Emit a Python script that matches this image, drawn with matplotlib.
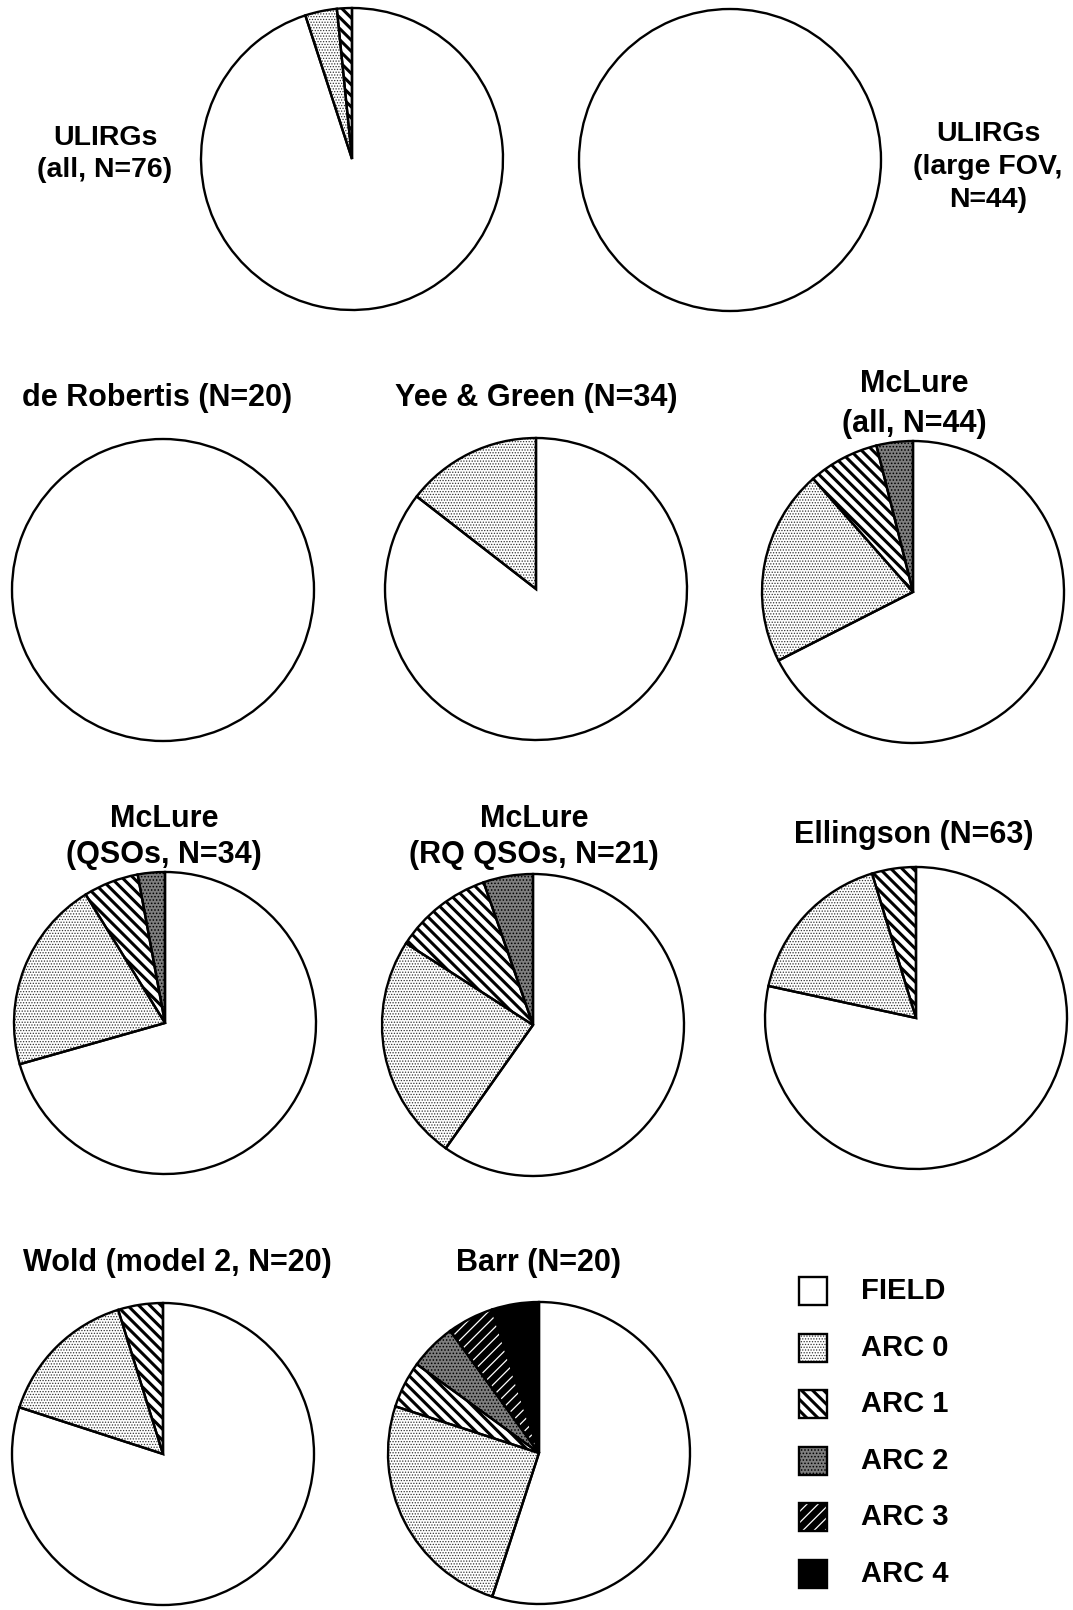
import matplotlib.pyplot as plt
from matplotlib.patches import Rectangle

plt.rcParams['font.family'] = ['Liberation Sans', 'DejaVu Sans']
plt.rcParams['font.weight'] = 'bold'
plt.rcParams['hatch.linewidth'] = 1.0

W, H = 1073, 1610

categories = ['FIELD', 'ARC 0', 'ARC 1', 'ARC 2', 'ARC 3', 'ARC 4']

# percentage of each sample in each environment class (FIELD, ARC 0 .. ARC 4)
ulirgs_all = [95.0, 3.4, 1.6, 0, 0, 0]
ulirgs_fov = [100.0, 0, 0, 0, 0, 0]
de_robertis = [100.0, 0, 0, 0, 0, 0]
yee_green = [85.5, 14.5, 0, 0, 0, 0]
mclure_all = [67.5, 21.0, 7.6, 3.9, 0, 0]
mclure_qso = [70.6, 20.6, 5.9, 2.9, 0, 0]
mclure_rq = [59.8, 24.3, 10.6, 5.3, 0, 0]
ellingson = [78.4, 16.9, 4.7, 0, 0, 0]
wold = [80.0, 15.2, 4.8, 0, 0, 0]
barr = [55.0, 25.0, 5.0, 5.0, 5.0, 5.0]

titles = ['ULIRGs\n(all, N=76)', 'ULIRGs\n(large FOV,\nN=44)',
          'de Robertis (N=20)', 'Yee & Green (N=34)', 'McLure\n(all, N=44)',
          'McLure\n(QSOs, N=34)', 'McLure\n(RQ QSOs, N=21)', 'Ellingson (N=63)',
          'Wold (model 2, N=20)', 'Barr (N=20)']
samples = [ulirgs_all, ulirgs_fov, de_robertis, yee_green, mclure_all,
           mclure_qso, mclure_rq, ellingson, wold, barr]

# layout in pixels: pie centre, radius, title centre, size and line spacing
pie_pos = [(352, 159), (730, 160), (163, 590), (536, 589), (913, 592),
           (165, 1023), (533, 1025), (916, 1018), (163, 1454), (539, 1453)]
title_pos = [(105, 154), (988, 167), (157, 398), (536, 398), (914, 404),
             (164, 837), (534, 837), (914, 835), (177, 1263), (539, 1263)]
title_fs = [20.5, 20.5, 22, 22, 22, 22, 22, 22, 22, 22]
title_ls = [1.32, 1.36, 1.2, 1.2, 1.46, 1.27, 1.27, 1.2, 1.2, 1.2]
R = 151

styles = {
    'FIELD': dict(face='white', hatch=None, hc='white', hlw=1.0),
    'ARC 0': dict(face='white', hatch='......', hc='#333333', hlw=0.6),
    'ARC 1': dict(face='white', hatch='\\\\\\', hc='black', hlw=2.2),
    'ARC 2': dict(face='#7e7e7e', hatch='.....', hc='black', hlw=0.7),
    'ARC 3': dict(face='black', hatch='///', hc='white', hlw=0.9),
    'ARC 4': dict(face='black', hatch=None, hc='black', hlw=1.0),
}


def style_patch(p, cat):
    s = styles[cat]
    p.set_facecolor(s['face'])
    p.set_edgecolor(s['hc'])
    p.set_linewidth(0)
    if s['hatch']:
        p.set_hatch(s['hatch'])
        if hasattr(p, 'set_hatch_linewidth'):
            p.set_hatch_linewidth(s['hlw'])


fig = plt.figure(figsize=(W / 100, H / 100), dpi=100)

# overlay axes in pixel coordinates for the text and the legend
bg = fig.add_axes([0, 0, 1, 1], zorder=5)
bg.set_xlim(0, W)
bg.set_ylim(H, 0)
bg.axis('off')

pad = 1.03
for vals, (cx, cy) in zip(samples, pie_pos):
    ax = fig.add_axes([(cx - R * pad) / W, 1 - (cy + R * pad) / H,
                       2 * R * pad / W, 2 * R * pad / H])
    # pies run anticlockwise from 12 o'clock: ARC 4 ... ARC 0, then FIELD
    order = [c for c in categories[::-1] if vals[categories.index(c)] > 0]
    v = [vals[categories.index(c)] for c in order]
    wedges, _ = ax.pie(v, startangle=90, counterclock=True, radius=1)
    for w, c in zip(wedges, order):
        style_patch(w, c)
    ax.pie(v, startangle=90, counterclock=True, radius=1,
           wedgeprops=dict(facecolor='none', edgecolor='black', linewidth=1.7))
    ax.set_xlim(-pad, pad)
    ax.set_ylim(-pad, pad)

for t, (tx, ty), fs, ls in zip(titles, title_pos, title_fs, title_ls):
    bg.text(tx, ty, t, ha='center', va='center', fontsize=fs,
            fontweight='bold', linespacing=ls)

# legend
for i, cat in enumerate(categories):
    y = 1291 + 56.6 * i
    sq = Rectangle((799, y - 14), 28, 28)
    style_patch(sq, cat)
    bg.add_patch(sq)
    bg.add_patch(Rectangle((799, y - 14), 28, 28, facecolor='none',
                           edgecolor='black', linewidth=1.7))
    bg.text(861, y, cat, ha='left', va='center', fontsize=21,
            fontweight='bold')

fig.savefig('out.png', dpi=100)
